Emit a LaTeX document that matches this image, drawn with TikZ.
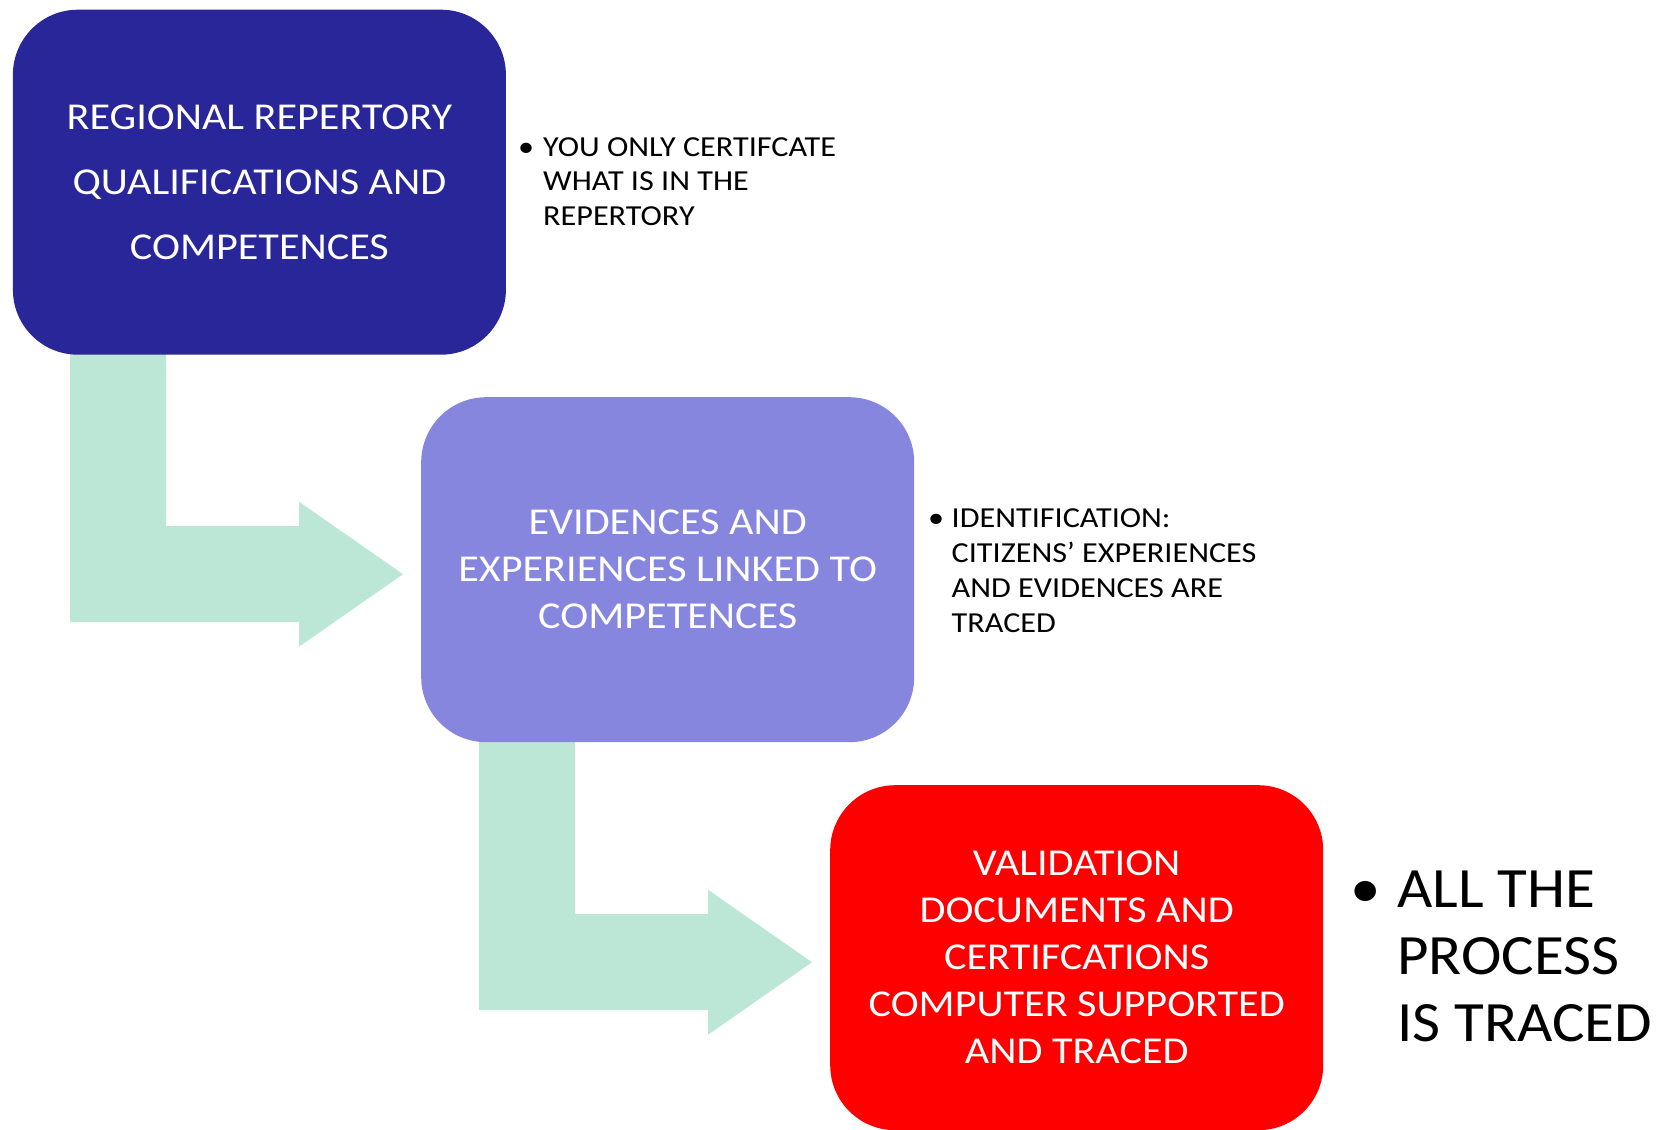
\documentclass[tikz,border=0pt]{standalone}
\usepackage{fontspec}
\setmainfont{Carlito}[FakeStretch=1.11]
\newfontfamily\bigfont{Carlito}[FakeStretch=1.07]
\usetikzlibrary{calc}
\definecolor{navybox}{RGB}{40,38,152}
\definecolor{lavbox}{RGB}{134,134,223}
\definecolor{redbox}{RGB}{255,0,0}
\definecolor{mint}{RGB}{188,230,213}
\pgfdeclarelayer{bg}
\pgfsetlayers{bg,main}
\begin{document}
\begin{tikzpicture}[x=1pt,y=-1pt,
  box/.style={rounded corners=65pt, minimum width=493pt, minimum height=345pt,
    inner sep=0pt, text=white, align=center, anchor=north west,
    font=\fontsize{38}{47}\selectfont},
  bentarrow/.pic={\fill[mint] (-333,-230) -- (-237,-230) -- (-237,-48) -- (-104,-48)
    -- (-104,-72.5) -- (0,0) -- (-104,72.5) -- (-104,48) -- (-333,48) -- cycle;},
  note/.style={anchor=base west, inner sep=0pt, text=black}]
\useasboundingbox (0,0) rectangle (1656,1129);
\node[box, fill=navybox, font=\fontsize{38}{65}\selectfont] (b1) at (12.7,9.5)
  {REGIONAL REPERTORY\\QUALIFICATIONS AND\\COMPETENCES};
\node[box, fill=lavbox] (b2) at (421,397)
  {EVIDENCES AND\\EXPERIENCES LINKED TO\\COMPETENCES};
\node[box, fill=redbox] (b3) at (830,785)
  {VALIDATION\\DOCUMENTS AND\\CERTIFCATIONS\\COMPUTER SUPPORTED\\AND TRACED};
\begin{pgfonlayer}{bg}
  \pic at ($(b2.west)+(-18,4.5)$) {bentarrow};
  \pic at ($(b3.west)+(-18,4.5)$) {bentarrow};
\end{pgfonlayer}
\node[note, font=\fontsize{29}{35}\selectfont] (n1) at (518,156)
  {\begin{tabular}[t]{@{}l@{}l@{}}\makebox[25pt][l]{•}&YOU ONLY CERTIFCATE\\&WHAT IS IN THE\\&REPERTORY\end{tabular}};
\node[note, font=\fontsize{29}{35}\selectfont] (n2) at (928,527)
  {\begin{tabular}[t]{@{}l@{}l@{}}\makebox[23.5pt][l]{•}&IDENTIFICATION:\\&CITIZENS’ EXPERIENCES\\&AND EVIDENCES ARE\\&TRACED\end{tabular}};
\node[note, font=\bigfont\fontsize{57}{67}\selectfont] (n3) at (1350,907)
  {\begin{tabular}[t]{@{}l@{}l@{}}\makebox[47pt][l]{•}&ALL THE\\&PROCESS\\&IS TRACED\end{tabular}};
\end{tikzpicture}
\end{document}
